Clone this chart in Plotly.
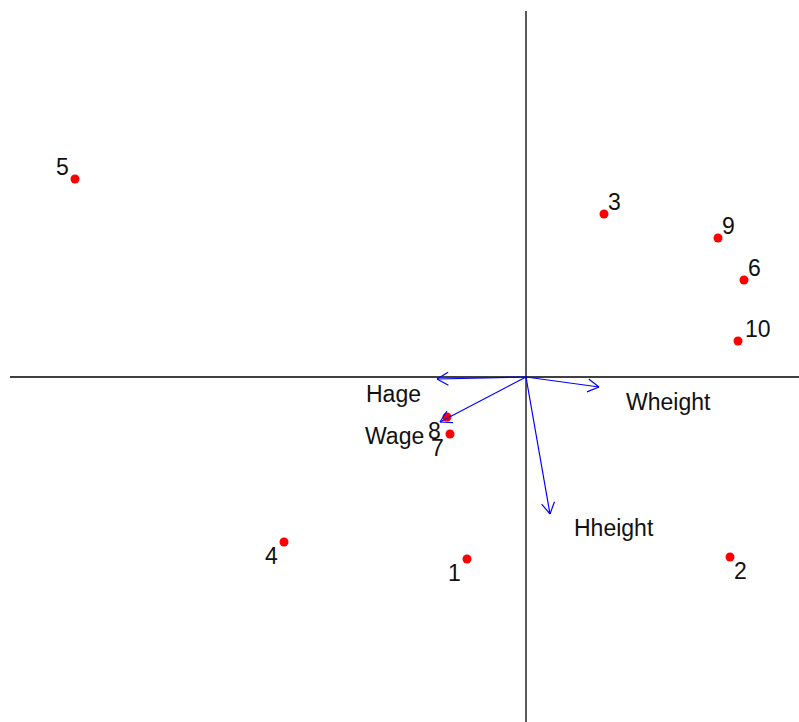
import numpy as np
import plotly.graph_objects as go

# Observation scores (first two components)
obs_labels = ["1", "2", "3", "4", "5", "6", "7", "8", "9", "10"]
score_x = [-0.59, 2.04, 0.78, -2.42, -4.51, 2.18, -0.76, -0.79, 1.92, 2.12]
score_y = [-1.82, -1.80, 1.63, -1.65, 1.98, 0.97, -0.57, -0.40, 1.39, 0.36]
# which corner of the point each number sits at (t/b = top/bottom, l/r = left/right)
label_side = ["bl", "br", "tr", "bl", "tl", "tr", "bl", "bl", "tr", "tr"]

# Variable loadings drawn as arrows from the origin
var_names = ["Hage", "Wage", "Wheight", "Hheight"]
load_x = [-0.89, -0.86, 0.73, 0.24]
load_y = [-0.02, -0.45, -0.10, -1.37]
var_label_x = [-1.33, -1.32, 1.42, 0.88]
var_label_y = [-0.17, -0.59, -0.25, -1.51]

FONT = "Liberation Sans, Arial, sans-serif"
FONT_SIZE = 23

fig = go.Figure()

# observation points
fig.add_trace(go.Scatter(
    x=score_x, y=score_y, mode="markers",
    marker=dict(color="#ff0000", size=9, line=dict(width=0)),
    hoverinfo="text", text=obs_labels,
))

# loading arrows with open V heads
head_len = 0.13
head_ang = np.deg2rad(30)
ax_pts, ay_pts = [], []
for lx, ly in zip(load_x, load_y):
    d = np.array([lx, ly]) / np.hypot(lx, ly)
    ax_pts += [0, lx, None]
    ay_pts += [0, ly, None]
    for s in (1, -1):
        c, sn = np.cos(s * head_ang), np.sin(s * head_ang)
        r = np.array([c * d[0] - sn * d[1], sn * d[0] + c * d[1]])
        ax_pts += [lx - head_len * r[0], lx, None]
        ay_pts += [ly - head_len * r[1], ly, None]
fig.add_trace(go.Scatter(
    x=ax_pts, y=ay_pts, mode="lines",
    line=dict(color="#0000ff", width=1.2),
    hoverinfo="skip",
))

annotations = []
for lab, x, y, side in zip(obs_labels, score_x, score_y, label_side):
    up = side[0] == "t"
    right = side[1] == "r"
    extra = 3 * (len(lab) - 1)
    annotations.append(dict(
        x=x, y=y, xref="x", yref="y", text=lab, showarrow=False,
        xanchor="left" if right else "right", yanchor="middle",
        xshift=(2 + extra) if right else -4, yshift=12 if up else -14,
        font=dict(family=FONT, size=FONT_SIZE, color="#111111"),
    ))
for name, x, y in zip(var_names, var_label_x, var_label_y):
    annotations.append(dict(
        x=x, y=y, xref="x", yref="y", text=name, showarrow=False,
        xanchor="center", yanchor="middle",
        font=dict(family=FONT, size=FONT_SIZE, color="#111111"),
    ))

# reference lines through the origin
shapes = [
    dict(type="line", xref="x", yref="y", x0=-5.16, x1=2.80, y0=0, y1=0,
         line=dict(color="#000000", width=1.3), layer="below"),
    dict(type="line", xref="x", yref="y", x0=0, x1=0, y0=3.66, y1=-3.50,
         line=dict(color="#000000", width=1.3), layer="below"),
]

fig.update_layout(
    width=799, height=722,
    margin=dict(l=0, r=0, t=0, b=0),
    paper_bgcolor="white", plot_bgcolor="white",
    showlegend=False,
    xaxis=dict(range=[-5.26, 2.73], visible=False, fixedrange=True),
    yaxis=dict(range=[-3.45, 3.77], visible=False, fixedrange=True),
    annotations=annotations, shapes=shapes,
)

fig.write_html("out.html")
